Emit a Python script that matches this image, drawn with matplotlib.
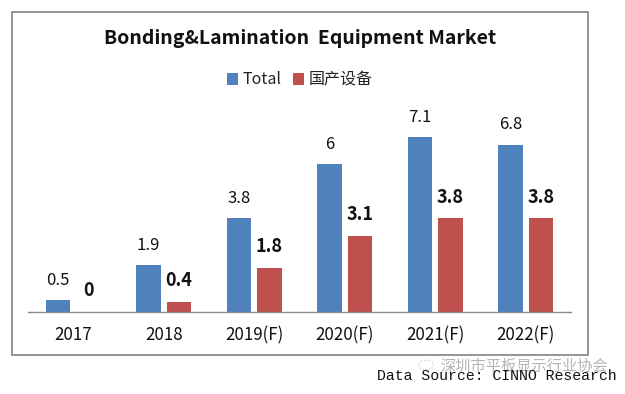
import numpy as np
import matplotlib
matplotlib.use("Agg")
import matplotlib.pyplot as plt
from matplotlib.patches import Rectangle, Circle

years = ["2017", "2018", "2019(F)", "2020(F)", "2021(F)", "2022(F)"]
total = [0.5, 1.9, 3.8, 6, 7.1, 6.8]
domestic = [0, 0.4, 1.8, 3.1, 3.8, 3.8]
total_name = "Total"
domestic_name = "国产设备"

BLUE = "#4f81bd"
RED = "#c0504d"
W, H = 625, 394

plt.rcParams["font.family"] = ["Noto Sans CJK SC", "DejaVu Sans"]

fig = plt.figure(figsize=(W / 100, H / 100), dpi=100, facecolor="white")

# chart frame, in pixels from the top left
fig.add_artist(Rectangle((12 / W, 1 - 355 / H), 576 / W, 343 / H, transform=fig.transFigure,
                         facecolor="white", edgecolor="#8c8c8c", linewidth=1.3, zorder=-1))

ax = fig.add_axes([28 / W, 1 - 312 / H, 543 / W, 197 / H])
ax.set_facecolor("none")
x = np.arange(len(years))
bw = 0.27
off = 0.168
b1 = ax.bar(x - off, total, bw, color=BLUE, label=total_name)
b2 = ax.bar(x + off, domestic, bw, color=RED, label=domestic_name)

ax.set_xlim(-0.5, 5.5)
ax.set_ylim(0, 8)
ax.set_xticks(x, years)
ax.set_yticks([])
ax.tick_params(axis="x", length=0, pad=10, labelsize=12.2, labelcolor="#111111")
for s in ["top", "left", "right"]:
    ax.spines[s].set_visible(False)
ax.spines["bottom"].set_color("#8c8c8c")
ax.spines["bottom"].set_linewidth(1.0)

for xi, v in zip(x, total):
    ax.annotate(str(v), (xi - off, v), xytext=(0, 8), textcoords="offset points",
                ha="center", va="bottom", fontsize=12, color="#111111")
for xi, v in zip(x, domestic):
    ax.annotate(str(v), (xi + off, v), xytext=(0, 8.5), textcoords="offset points",
                ha="center", va="bottom", fontsize=13, fontweight="bold", color="#111111")

fig.text(300 / W, 1 - 38.5 / H, "Bonding&Lamination  Equipment Market", ha="center", va="center",
         fontsize=14, fontweight="bold", color="#111111")

fig.legend(handles=[b1, b2], loc="center", bbox_to_anchor=(300 / W, 1 - 80 / H), ncol=2, frameon=False,
           fontsize=11.5, handlelength=0.7, handleheight=0.7, handletextpad=0.3, columnspacing=0.7,
           labelcolor="#222222")

# watermark and source line under the frame
fig.add_artist(Circle((426 / W, 1 - 365 / H), 0.012, transform=fig.transFigure, facecolor="none",
                      edgecolor="#c4c4c4", linewidth=0.8, linestyle=":"))
fig.text(524 / W, 1 - 366 / H, "深圳市平板显示行业协会", ha="center", va="center",
         fontsize=11, color="#b5b5b5")
fig.text(497 / W, 1 - 376 / H, "Data Source: CINNO Research", ha="center", va="center",
         fontsize=10.7, family="Liberation Mono", color="#111111")

fig.savefig("out.png", dpi=100)
